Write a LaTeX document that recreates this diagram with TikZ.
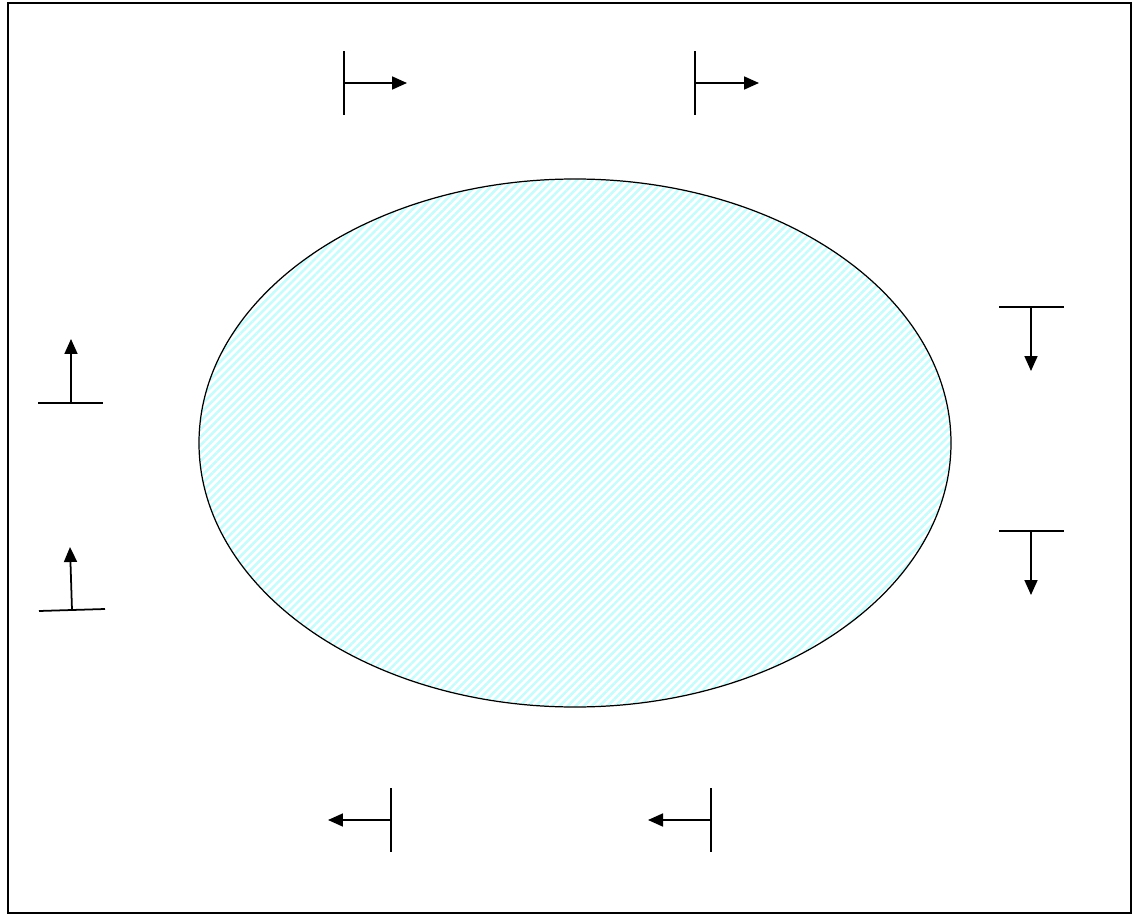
\documentclass[tikz,border=0pt]{standalone}
\usepackage{tikz}
\usepackage{xcolor}
\usetikzlibrary{arrows.meta, patterns.meta, shapes.geometric}

\definecolor{hatchcyan}{RGB}{200,252,252}

\begin{document}
\begin{tikzpicture}[
    x=0.02cm, y=-0.02cm,
    frame/.style={draw=black, line width=1.2pt},
    bar/.style={draw=black, line width=1pt},
    flow/.style={draw=black, line width=1pt, -{Triangle[length=0.3cm, width=0.26cm]}}
]
    \useasboundingbox (0,0) rectangle (1134,916);

    % Outer frame
    \draw[frame] (8,3) rectangle (1131,913);

    % Hatched region
    \node[ellipse, draw=black, line width=0.7pt, minimum width=752*0.02cm, minimum height=528*0.02cm,
          inner sep=0pt, pattern={Lines[angle=45, distance=3.2pt, line width=1.5pt]}, pattern color=hatchcyan]
          (region) at (575,443) {};

    % Top markers
    \coordinate (t1a) at (344,51);  \coordinate (t1b) at (344,115);
    \coordinate (t1o) at (344,83);  \coordinate (t1e) at (407,83);
    \coordinate (t2a) at (695,51);  \coordinate (t2b) at (695,115);
    \coordinate (t2o) at (695,83);  \coordinate (t2e) at (759,83);
    \draw[bar] (t1a) -- (t1b);
    \draw[flow] (t1o) -- (t1e);
    \draw[bar] (t2a) -- (t2b);
    \draw[flow] (t2o) -- (t2e);

    % Right markers
    \coordinate (r1a) at (999,307);  \coordinate (r1b) at (1064,307);
    \coordinate (r1o) at (1031,307); \coordinate (r1e) at (1031,371);
    \coordinate (r2a) at (999,531);  \coordinate (r2b) at (1064,531);
    \coordinate (r2o) at (1031,531); \coordinate (r2e) at (1031,595);
    \draw[bar] (r1a) -- (r1b);
    \draw[flow] (r1o) -- (r1e);
    \draw[bar] (r2a) -- (r2b);
    \draw[flow] (r2o) -- (r2e);

    % Bottom markers
    \coordinate (b1a) at (391,788);  \coordinate (b1b) at (391,852);
    \coordinate (b1o) at (391,820);  \coordinate (b1e) at (328,820);
    \coordinate (b2a) at (711,788);  \coordinate (b2b) at (711,852);
    \coordinate (b2o) at (711,820);  \coordinate (b2e) at (648,820);
    \draw[bar] (b1a) -- (b1b);
    \draw[flow] (b1o) -- (b1e);
    \draw[bar] (b2a) -- (b2b);
    \draw[flow] (b2o) -- (b2e);

    % Left markers
    \coordinate (l1a) at (38,403);   \coordinate (l1b) at (103,403);
    \coordinate (l1o) at (71,403);   \coordinate (l1e) at (71,339);
    \coordinate (l2a) at (39,611);   \coordinate (l2b) at (105,609);
    \coordinate (l2o) at (72,610);   \coordinate (l2e) at (70,547);
    \draw[bar] (l1a) -- (l1b);
    \draw[flow] (l1o) -- (l1e);
    \draw[bar] (l2a) -- (l2b);
    \draw[flow] (l2o) -- (l2e);
\end{tikzpicture}
\end{document}
